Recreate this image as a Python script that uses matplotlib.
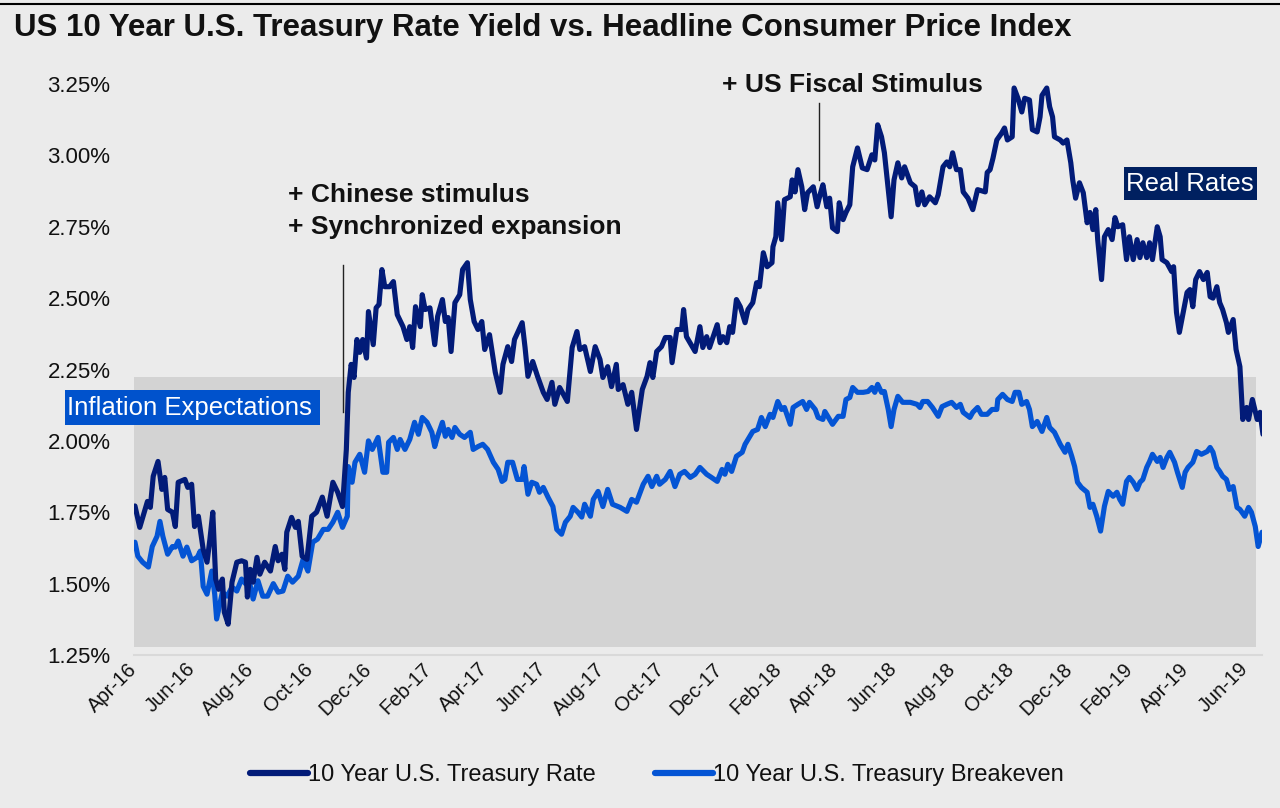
import matplotlib
matplotlib.use("Agg")
import matplotlib.pyplot as plt
import matplotlib.dates as mdates
from matplotlib.lines import Line2D
from matplotlib.patches import Rectangle
import pandas as pd

plt.rcParams['font.family'] = ['Liberation Sans', 'DejaVu Sans']

start = pd.Timestamp('2016-04-01')

# 10 Year U.S. Treasury Rate (days since 2016-04-01, yield %)
rate_days = [1, 6, 14, 17, 20, 25, 29, 32, 35, 40, 43, 46, 53, 56, 60, 63, 67, 72, 76, 79,
             82, 85, 88, 92, 94, 98, 102, 107, 112, 116, 118, 121, 124, 128, 131, 136, 142, 147, 150, 154,
             157, 159, 164, 168, 171, 175, 180, 185, 190, 196, 201, 207, 212, 217, 221, 223, 226, 229, 232, 235,
             238, 242, 244, 249, 252, 255, 258, 261, 266, 270, 274, 280, 284, 287, 290, 293, 298, 300, 303, 308,
             313, 316, 321, 324, 327, 330, 334, 339, 342, 347, 350, 354, 358, 362, 365, 370, 376, 381, 384, 389,
             393, 396, 404, 407, 410, 415, 420, 426, 430, 435, 438, 443, 451, 456, 461, 464, 469, 475, 480, 485,
             488, 493, 497, 502, 504, 509, 514, 518, 523, 529, 534, 537, 540, 544, 549, 553, 558, 560, 565, 570,
             572, 575, 581, 584, 589, 592, 596, 599, 607, 610, 613, 617, 620, 623, 627, 631, 636, 639, 644, 648,
             651, 655, 659, 664, 665, 668, 670, 674, 677, 683, 685, 688, 691, 695, 698, 701, 707, 711, 714, 717,
             721, 724, 727, 732, 734, 738, 741, 745, 748, 753, 758, 763, 768, 771, 774, 778, 781, 785, 788, 791,
             795, 799, 802, 808, 813, 816, 820, 823, 828, 834, 837, 842, 846, 849, 852, 856, 860, 863, 868, 873,
             878, 886, 888, 891, 894, 898, 903, 906, 909, 914, 916, 920, 924, 927, 932, 935, 940, 943, 945, 950,
             953, 956, 958, 964, 967, 971, 975, 977, 980, 984, 988, 992, 995, 998, 1001, 1003, 1007, 1010, 1014, 1018,
             1021, 1024, 1029, 1033, 1036, 1040, 1044, 1047, 1050, 1054, 1057, 1060, 1065, 1068, 1070, 1075, 1080, 1082, 1085, 1088,
             1092, 1096, 1099, 1102, 1105, 1109, 1113, 1117, 1120, 1123, 1127, 1130, 1133, 1137, 1139, 1144, 1147, 1151, 1154, 1158,
             1160, 1164, 1169, 1172, 1175]
rate_vals = [1.772, 1.697, 1.788, 1.767, 1.876, 1.928, 1.830, 1.872, 1.760, 1.750, 1.700, 1.855, 1.865, 1.837, 1.848, 1.700, 1.736, 1.620, 1.575, 1.655,
             1.750, 1.516, 1.480, 1.516, 1.400, 1.358, 1.505, 1.575, 1.580, 1.575, 1.453, 1.550, 1.505, 1.592, 1.533, 1.575, 1.544, 1.630, 1.580, 1.603,
             1.550, 1.680, 1.732, 1.697, 1.718, 1.596, 1.585, 1.736, 1.750, 1.803, 1.736, 1.855, 1.820, 1.770, 1.970, 2.170, 2.268, 2.222, 2.355, 2.310,
             2.355, 2.290, 2.453, 2.337, 2.466, 2.478, 2.600, 2.540, 2.540, 2.558, 2.442, 2.400, 2.355, 2.400, 2.327, 2.470, 2.400, 2.512, 2.460, 2.466,
             2.337, 2.436, 2.495, 2.418, 2.432, 2.313, 2.484, 2.512, 2.600, 2.624, 2.495, 2.418, 2.390, 2.418, 2.320, 2.372, 2.240, 2.170, 2.268, 2.330,
             2.278, 2.355, 2.414, 2.327, 2.226, 2.278, 2.226, 2.170, 2.145, 2.205, 2.128, 2.187, 2.138, 2.327, 2.383, 2.320, 2.330, 2.243, 2.330, 2.285,
             2.222, 2.260, 2.190, 2.268, 2.180, 2.197, 2.128, 2.170, 2.040, 2.180, 2.226, 2.274, 2.222, 2.313, 2.330, 2.362, 2.362, 2.274, 2.390, 2.390,
             2.460, 2.365, 2.330, 2.313, 2.400, 2.327, 2.365, 2.327, 2.407, 2.344, 2.365, 2.344, 2.400, 2.380, 2.495, 2.470, 2.414, 2.460, 2.484, 2.554,
             2.540, 2.659, 2.610, 2.624, 2.680, 2.715, 2.834, 2.705, 2.845, 2.855, 2.914, 2.872, 2.950, 2.890, 2.810, 2.869, 2.890, 2.820, 2.862, 2.897,
             2.820, 2.850, 2.746, 2.733, 2.834, 2.775, 2.800, 2.827, 2.960, 3.026, 2.956, 2.950, 3.002, 2.984, 3.107, 3.065, 3.009, 2.880, 2.785, 2.914,
             2.974, 2.921, 2.960, 2.904, 2.890, 2.827, 2.872, 2.827, 2.855, 2.834, 2.862, 2.960, 2.977, 2.960, 3.009, 2.950, 2.950, 2.872, 2.850, 2.810,
             2.880, 2.872, 2.940, 2.950, 2.990, 3.054, 3.078, 3.096, 3.054, 3.065, 3.236, 3.200, 3.152, 3.200, 3.194, 3.090, 3.082, 3.135, 3.210, 3.236,
             3.170, 3.135, 3.065, 3.054, 3.043, 3.054, 2.974, 2.914, 2.850, 2.904, 2.869, 2.764, 2.800, 2.740, 2.810, 2.705, 2.565, 2.715, 2.740, 2.705,
             2.782, 2.750, 2.757, 2.635, 2.715, 2.635, 2.705, 2.642, 2.694, 2.642, 2.694, 2.635, 2.750, 2.715, 2.635, 2.624, 2.593, 2.610, 2.450, 2.380,
             2.450, 2.520, 2.530, 2.470, 2.565, 2.593, 2.565, 2.590, 2.505, 2.500, 2.540, 2.484, 2.460, 2.414, 2.380, 2.425, 2.320, 2.260, 2.075, 2.117,
             2.075, 2.145, 2.075, 2.100, 2.023]

# 10 Year U.S. Treasury Breakeven (days since 2016-04-01, %)
be_days = [1, 4, 9, 15, 19, 24, 27, 30, 35, 40, 43, 46, 51, 55, 60, 66, 69, 72, 76, 81,
           84, 86, 92, 97, 102, 107, 112, 116, 119, 124, 129, 134, 139, 145, 150, 155, 160, 165, 171, 176,
           181, 186, 191, 197, 202, 207, 212, 217, 222, 223, 227, 230, 235, 240, 244, 248, 254, 259, 263, 265,
           270, 274, 277, 282, 287, 292, 296, 300, 305, 310, 313, 316, 321, 324, 327, 331, 334, 339, 344, 350,
           353, 358, 363, 368, 374, 379, 383, 386, 389, 394, 399, 404, 406, 410, 414, 419, 422, 426, 431, 436,
           440, 445, 449, 454, 457, 462, 466, 469, 475, 478, 483, 488, 493, 498, 506, 513, 518, 523, 530, 535,
           539, 544, 547, 553, 558, 563, 568, 573, 579, 584, 589, 596, 601, 607, 612, 615, 618, 622, 627, 633,
           636, 641, 644, 649, 653, 657, 662, 665, 670, 674, 677, 683, 686, 691, 696, 700, 703, 709, 712, 717,
           719, 724, 727, 733, 738, 741, 745, 748, 753, 759, 764, 768, 771, 774, 778, 781, 785, 788, 791, 795,
           800, 808, 815, 818, 821, 826, 831, 837, 841, 846, 851, 856, 860, 863, 870, 873, 878, 882, 888, 893,
           898, 899, 904, 909, 914, 917, 921, 924, 929, 932, 935, 940, 945, 950, 953, 958, 964, 969, 972, 976,
           979, 982, 986, 992, 995, 998, 1002, 1006, 1010, 1014, 1019, 1023, 1026, 1029, 1033, 1036, 1040, 1044, 1047, 1050,
           1054, 1057, 1060, 1065, 1068, 1071, 1075, 1078, 1083, 1086, 1091, 1094, 1097, 1102, 1106, 1111, 1117, 1120, 1123, 1127,
           1130, 1133, 1137, 1140, 1144, 1148, 1151, 1156, 1160, 1163, 1167, 1170, 1174]
be_vals = [1.645, 1.596, 1.575, 1.558, 1.630, 1.666, 1.718, 1.666, 1.603, 1.630, 1.628, 1.649, 1.596, 1.628, 1.580, 1.593, 1.614, 1.490, 1.463, 1.544,
           1.463, 1.376, 1.470, 1.456, 1.488, 1.474, 1.516, 1.500, 1.523, 1.446, 1.510, 1.456, 1.456, 1.500, 1.470, 1.474, 1.526, 1.505, 1.526, 1.585,
           1.544, 1.645, 1.656, 1.690, 1.690, 1.715, 1.750, 1.697, 1.736, 1.910, 1.855, 1.925, 1.953, 1.890, 2.000, 1.970, 2.012, 1.890, 1.890, 1.995,
           2.012, 1.970, 2.005, 1.970, 2.005, 2.065, 2.023, 2.082, 2.065, 2.030, 1.980, 2.016, 2.065, 2.016, 2.040, 2.012, 2.047, 2.023, 2.012, 2.030,
           1.970, 1.980, 1.988, 1.970, 1.925, 1.900, 1.858, 1.865, 1.925, 1.925, 1.865, 1.865, 1.910, 1.813, 1.855, 1.848, 1.820, 1.837, 1.802, 1.770,
           1.690, 1.673, 1.715, 1.736, 1.767, 1.750, 1.733, 1.778, 1.736, 1.795, 1.823, 1.770, 1.830, 1.778, 1.767, 1.753, 1.795, 1.785, 1.848, 1.876,
           1.840, 1.876, 1.848, 1.865, 1.893, 1.840, 1.883, 1.893, 1.872, 1.883, 1.907, 1.883, 1.872, 1.858, 1.900, 1.883, 1.918, 1.893, 1.946, 1.960,
           1.988, 2.016, 2.033, 2.040, 2.082, 2.050, 2.093, 2.082, 2.138, 2.110, 2.117, 2.058, 2.117, 2.128, 2.138, 2.110, 2.135, 2.110, 2.082, 2.075,
           2.103, 2.075, 2.058, 2.086, 2.086, 2.145, 2.152, 2.187, 2.170, 2.170, 2.173, 2.187, 2.170, 2.198, 2.170, 2.173, 2.110, 2.050, 2.110, 2.156,
           2.135, 2.135, 2.128, 2.117, 2.138, 2.138, 2.117, 2.086, 2.120, 2.128, 2.135, 2.117, 2.128, 2.100, 2.082, 2.100, 2.117, 2.093, 2.093, 2.110,
           2.110, 2.145, 2.163, 2.145, 2.138, 2.170, 2.170, 2.128, 2.138, 2.110, 2.050, 2.068, 2.033, 2.082, 2.047, 2.030, 1.988, 1.960, 1.988, 1.946,
           1.910, 1.855, 1.837, 1.820, 1.767, 1.778, 1.736, 1.684, 1.771, 1.823, 1.806, 1.820, 1.795, 1.778, 1.858, 1.872, 1.855, 1.830, 1.855, 1.865,
           1.907, 1.928, 1.953, 1.928, 1.942, 1.907, 1.942, 1.960, 1.925, 1.890, 1.837, 1.890, 1.907, 1.925, 1.963, 1.953, 1.963, 1.977, 1.960, 1.907,
           1.893, 1.876, 1.865, 1.830, 1.840, 1.767, 1.760, 1.736, 1.767, 1.750, 1.700, 1.630, 1.680]

rate_dates = start + pd.to_timedelta(rate_days, unit='D')
be_dates = start + pd.to_timedelta(be_days, unit='D')

y_ticks = [1.25, 1.50, 1.75, 2.00, 2.25, 2.50, 2.75, 3.00, 3.25]

BG = '#ebebeb'
NAVY = '#021b78'
BLUE = '#0454d4'
TXT = '#111111'

W, H = 1280, 808
fig = plt.figure(figsize=(W / 100, H / 100), dpi=100, facecolor=BG)
ax = fig.add_axes([134 / W, 1 - 655 / H, (1262 - 134) / W, (655 - 84) / H])
ax.set_facecolor(BG)

x0 = start
x1 = start + pd.Timedelta(days=1174)
ax.set_xlim(x0, x1)
ax.set_ylim(1.25, 3.25)

# shaded inflation-expectations band
ax.axhspan(1.278, 2.222, xmin=0, xmax=(1256 - 134) / (1262 - 134), color='#d3d3d3', lw=0, zorder=0)

ax.plot(be_dates, be_vals, color=BLUE, lw=3.7, solid_joinstyle='round', solid_capstyle='round', zorder=3,
        label='10 Year U.S. Treasury Breakeven')
ax.plot(rate_dates, rate_vals, color=NAVY, lw=3.7, solid_joinstyle='round', solid_capstyle='round', zorder=4,
        label='10 Year U.S. Treasury Rate')

for s in ['top', 'right', 'left']:
    ax.spines[s].set_visible(False)
ax.spines['bottom'].set_color('#d9d9d9')
ax.spines['bottom'].set_linewidth(1.5)
ax.spines['bottom'].set_zorder(1)

ax.set_yticks(y_ticks)
ax.set_yticklabels([f'{v:.2f}%' for v in y_ticks])
ax.tick_params(axis='y', length=0, pad=17, labelsize=16, labelcolor=TXT)

ax.xaxis.set_major_locator(mdates.MonthLocator(bymonth=[2, 4, 6, 8, 10, 12]))
ax.xaxis.set_major_formatter(mdates.DateFormatter('%b-%y'))
ax.tick_params(axis='x', length=0, pad=8, labelsize=14.5, labelcolor=TXT)
for lab in ax.get_xticklabels():
    lab.set_rotation(45)
    lab.set_ha('right')
    lab.set_va('center')
    lab.set_rotation_mode('anchor')

# annotation lines
ev1 = start + pd.Timedelta(days=218)
ev2 = start + pd.Timedelta(days=713)
ax.plot([ev1, ev1], [2.100, 2.617], color='#222222', lw=1.0, zorder=5, clip_on=False)
ax.plot([ev2, ev2], [2.914, 3.184], color='#222222', lw=1.0, zorder=5, clip_on=False)

# texts
fig.text(14 / W, 1 - 28 / H, 'US 10 Year U.S. Treasury Rate Yield vs. Headline Consumer Price Index',
         fontsize=22.5, fontweight='bold', ha='left', va='center', color=TXT)
fig.text(288 / W, 1 - 195 / H, '+ Chinese stimulus', fontsize=19, fontweight='bold',
         ha='left', va='center', color=TXT)
fig.text(288 / W, 1 - 227 / H, '+ Synchronized expansion', fontsize=19, fontweight='bold',
         ha='left', va='center', color=TXT)
fig.text(722 / W, 1 - 85 / H, '+ US Fiscal Stimulus', fontsize=19, fontweight='bold',
         ha='left', va='center', color=TXT)

# label boxes
fig.patches.append(Rectangle((65 / W, 1 - 425 / H), (320 - 65) / W, 35 / H, transform=fig.transFigure,
                             facecolor='#0052cc', edgecolor='none', zorder=10))
fig.text(67 / W, 1 - 408 / H, 'Inflation Expectations', fontsize=18.5, color='white',
         ha='left', va='center', zorder=11)
fig.patches.append(Rectangle((1124 / W, 1 - 200 / H), (1257 - 1124) / W, 33 / H, transform=fig.transFigure,
                             facecolor='#002060', edgecolor='none', zorder=10))
fig.text(1126 / W, 1 - 184 / H, 'Real Rates', fontsize=18.5, color='white',
         ha='left', va='center', zorder=11)

# top border line
fig.add_artist(Line2D([0, 1], [1 - 4 / H, 1 - 4 / H], transform=fig.transFigure, color='black', lw=1.5))

handles, labels = ax.get_legend_handles_labels()
leg = fig.legend(handles[::-1], labels[::-1], loc='center', bbox_to_anchor=(657 / W, 1 - 775 / H),
                 ncol=2, frameon=False, fontsize=17, handlelength=2.45, handletextpad=0.0,
                 columnspacing=2.5)
for line in leg.get_lines():
    line.set_linewidth(4.5)
for t in leg.get_texts():
    t.set_color(TXT)

fig.savefig('out.png', dpi=100, facecolor=BG)
